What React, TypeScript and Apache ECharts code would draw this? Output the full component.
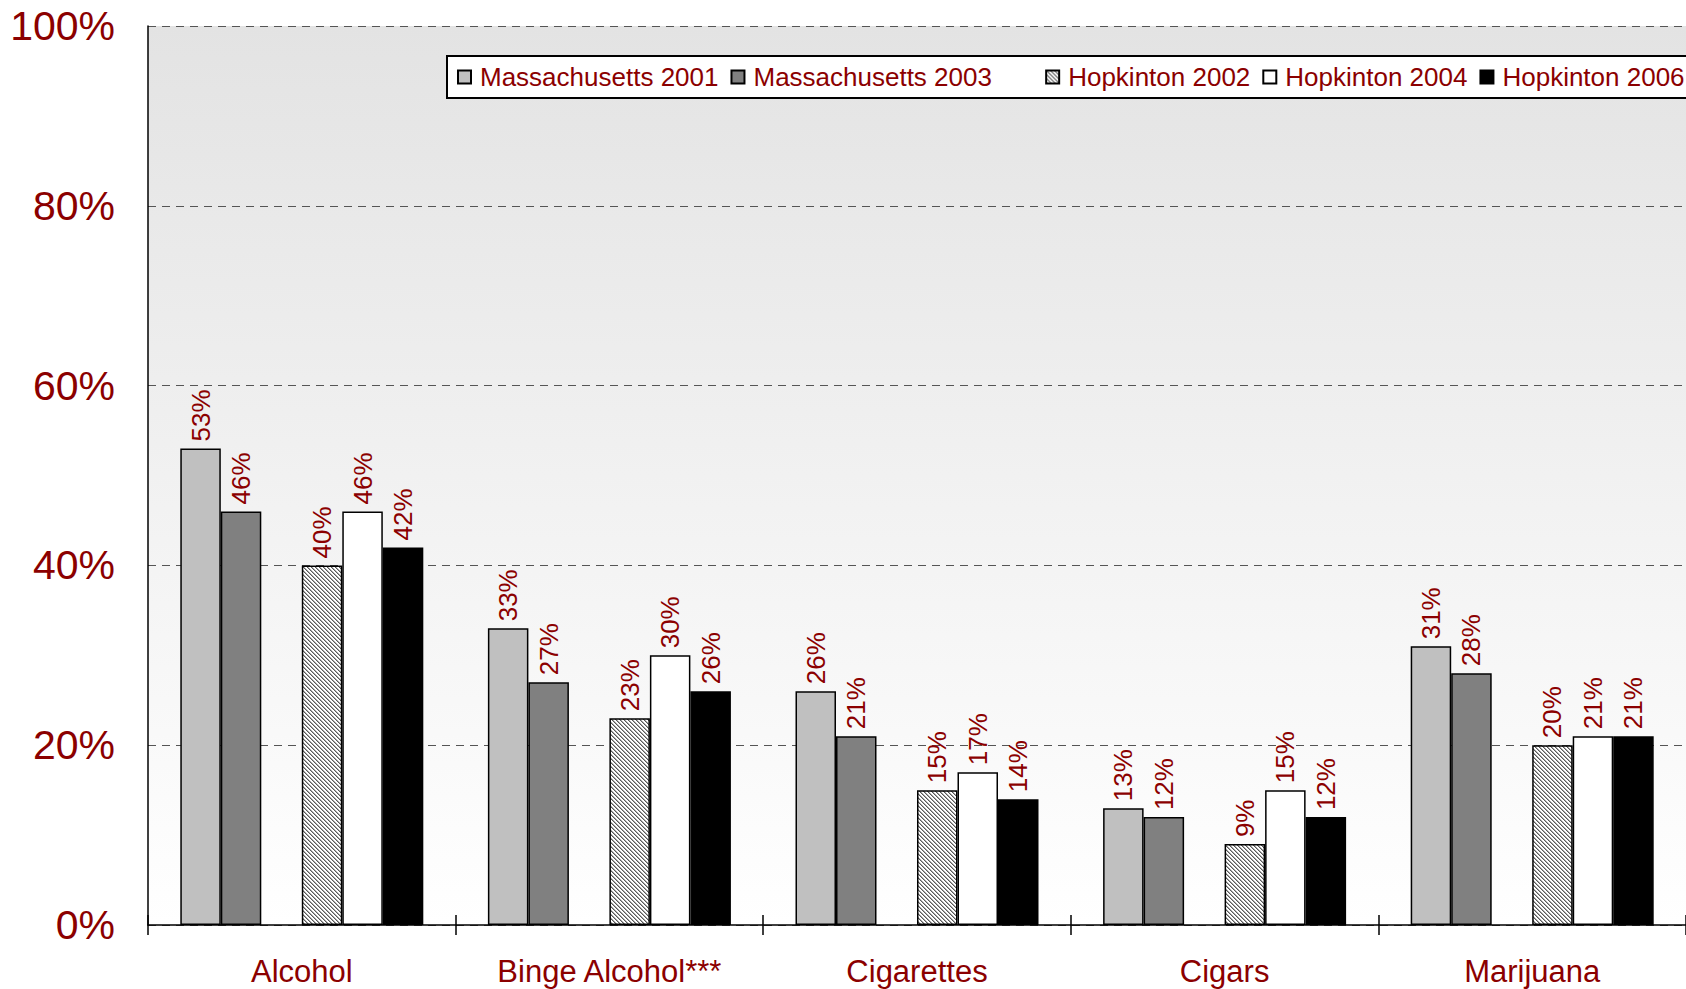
import React, { useEffect, useRef } from "react";
import * as echarts from "echarts";

const categories = ["Alcohol", "Binge Alcohol***", "Cigarettes", "Cigars", "Marijuana"];
const ma2001 = [53, 33, 26, 13, 31];
const ma2003 = [46, 27, 21, 12, 28];
const hop2002 = [40, 23, 15, 9, 20];
const hop2004 = [46, 30, 17, 15, 21];
const hop2006 = [42, 26, 14, 12, 21];
const yTicks = [0, 20, 40, 60, 80, 100];

const RED = "#8b0000";
const FONT = "'Liberation Sans', Arial, sans-serif";

function makeHatch(): HTMLCanvasElement {
  const c = document.createElement("canvas");
  c.width = 4;
  c.height = 4;
  const ctx = c.getContext("2d")!;
  ctx.fillStyle = "#ffffff";
  ctx.fillRect(0, 0, 4, 4);
  for (let i = 0; i < 4; i++) {
    ctx.fillStyle = "#5a5a5a";
    ctx.fillRect(i, i, 1, 1);
    ctx.fillStyle = "#a8a8a8";
    ctx.fillRect((i + 1) % 4, i, 1, 1);
  }
  return c;
}

export default function App() {
  const ref = useRef<HTMLDivElement>(null);
  useEffect(() => {
    if (!ref.current) return;
    const chart = echarts.init(ref.current, null, { renderer: "svg" });
    const hatch = makeHatch();
    const label = {
      show: true,
      position: "top",
      rotate: 90,
      align: "left",
      verticalAlign: "middle",
      distance: 7,
      color: RED,
      fontSize: 26,
      fontFamily: FONT,
      formatter: (p: any) => (p.value == null ? "" : p.value + "%"),
    };
    const mk = (name: string, data: (number | null)[], color: any) => ({
      name,
      type: "bar",
      data,
      barGap: "0%",
      barCategoryGap: "21%",
      label,
      itemStyle: { color, borderColor: "#000", borderWidth: 1.5 },
    });
    chart.setOption({
      animation: false,
      textStyle: { fontFamily: FONT },
      legend: {
        left: 447,
        top: 56,
        width: 1400,
        padding: [8, 30, 8, 10],
        backgroundColor: "#fff",
        borderColor: "#000",
        borderWidth: 2,
        itemWidth: 13,
        itemHeight: 13,
        itemGap: 12,
        icon: "rect",
        textStyle: { color: RED, fontSize: 26, fontFamily: FONT, padding: [0, 0, 0, 4] },
        data: ["Massachusetts 2001", "Massachusetts 2003", " ", "Hopkinton 2002", "Hopkinton 2004", "Hopkinton 2006"],
      },
      grid: {
        left: 148,
        top: 26,
        bottom: 64,
        right: -3,
        show: true,
        borderWidth: 0,
        backgroundColor: {
          type: "linear",
          x: 0,
          y: 0,
          x2: 0,
          y2: 1,
          colorStops: [
            { offset: 0, color: "#e3e3e3" },
            { offset: 1, color: "#ffffff" },
          ],
        },
      },
      xAxis: [
        {
          type: "category",
          data: categories,
          axisLine: { lineStyle: { color: "#000", width: 1.5 } },
          axisTick: { show: true, length: 10, lineStyle: { color: "#000", width: 1.5 } },
          axisLabel: { color: RED, fontSize: 31, fontFamily: FONT, margin: 31 },
        },
        {
          type: "category",
          data: categories,
          position: "bottom",
          axisLine: { show: false },
          axisTick: { show: true, inside: true, length: 10, lineStyle: { color: "#000", width: 1.5 } },
          axisLabel: { show: false },
        },
      ],
      yAxis: {
        type: "value",
        min: 0,
        max: 100,
        interval: 20,
        axisLine: { show: true, lineStyle: { color: "#000", width: 1.5 } },
        axisTick: { show: false },
        axisLabel: {
          color: RED,
          fontSize: 41,
          fontFamily: FONT,
          margin: 33,
          formatter: (v: number) => (yTicks.includes(v) ? v + "%" : ""),
        },
        splitLine: { show: true, lineStyle: { color: "#555", type: [8, 6], width: 1 } },
      },
      series: [
        mk("Massachusetts 2001", ma2001, "#c0c0c0"),
        mk("Massachusetts 2003", ma2003, "#808080"),
        {
          name: " ",
          type: "bar",
          data: categories.map(() => null),
          barGap: "0%",
          barCategoryGap: "21%",
          itemStyle: { color: "rgba(0,0,0,0)", borderColor: "rgba(0,0,0,0)", borderWidth: 0 },
        },
        mk("Hopkinton 2002", hop2002, { image: hatch, repeat: "repeat" }),
        mk("Hopkinton 2004", hop2004, "#ffffff"),
        mk("Hopkinton 2006", hop2006, "#000000"),
      ],
    });
    return () => chart.dispose();
  }, []);
  return (
    <div
      ref={ref}
      style={{ position: "fixed", left: 0, top: 0, width: 1686, height: 989, background: "#fff" }}
    />
  );
}
